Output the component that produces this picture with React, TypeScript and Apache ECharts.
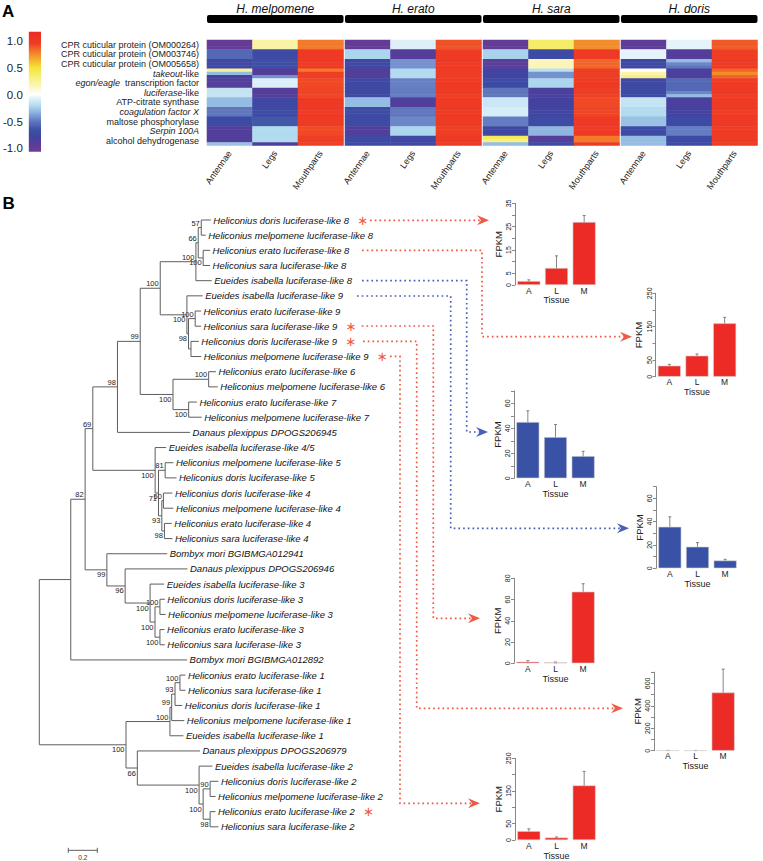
import React, { useEffect, useRef } from 'react';
import * as echarts from 'echarts';

const FONT = 'Liberation Sans, Arial, Helvetica, sans-serif';

// ---------------- Panel A data ----------------
const SPECIES = ['H. melpomene', 'H. erato', 'H. sara', 'H. doris'];
const TISSUES = ['Antennae', 'Legs', 'Mouthparts'];
const GENES = [
  'CPR cuticular protein (OM000264)',
  'CPR cuticular protein (OM003746)',
  'CPR cuticular protein (OM005658)',
  '_takeout_-like',
  '_egon/eagle_  transcription factor',
  '_luciferase_-like',
  'ATP-citrate synthase',
  '_coagulation factor X_',
  'maltose phosphorylase',
  '_Serpin 100A_',
  'alcohol dehydrogenase',
];
// one number = whole row, [a,b,c] = three stripes inside the row
const melpomene = [
  [-1.0, -0.55, -0.75, [0.25, -0.3, -0.8], -0.9, -0.15, -0.3, -0.5, -0.72, -0.88, [-0.88, -0.88, -0.28]],
  [0.22, -0.72, -0.68, [-0.9, -0.9, -0.42], -0.08, -0.9, -0.75, -0.72, -0.62, -0.2, [-0.2, -0.2, -0.85]],
  [0.8, 1.0, 1.0, [0.8, 0.95, 0.95], 0.92, 0.93, 1.0, 1.0, 0.97, 0.92, 0.95],
];
const erato = [
  [-1.0, -0.22, -0.75, -0.88, -0.75, -0.75, -0.3, -0.72, -0.72, -0.88, -0.72],
  [-0.08, -0.9, -0.42, -0.2, -0.47, -0.48, -0.88, -0.5, -0.45, -0.22, -0.75],
  [0.9, 0.97, 0.98, 0.96, 0.98, 0.97, 0.97, 0.98, 0.97, 0.95, 0.98],
];
const sara = [
  [-0.98, -0.23, -0.92, -0.8, -0.72, -0.5, -0.13, -0.1, -0.48, -0.75, [0.42, 0.3, -0.3]],
  [0.38, -0.72, 0.17, [-0.18, -0.42, -0.42], -0.22, -0.85, -0.82, -0.8, -0.72, -0.32, [-0.9, -0.9, -0.72]],
  [0.75, 0.98, 0.85, 0.95, 0.98, 0.95, 0.92, 0.93, 1.0, 1.0, [0.8, 0.8, 0.97]],
];
const doris = [
  [-0.95, -0.06, -0.75, [0.02, 0.2, 0.3], -0.75, -0.72, -0.15, -0.2, -0.28, -0.72, -0.3],
  [-0.06, -0.9, [-0.3, -0.45, -0.5], -0.85, -0.55, [-0.55, -0.45, -0.3], -0.85, -0.82, -0.72, -0.48, -0.72],
  [0.88, 0.95, 0.98, [0.85, 0.75, 0.85], 0.97, 0.98, 0.97, 0.97, 0.98, 0.97, 0.97],
];
const HEAT = [melpomene, erato, sara, doris];

const COLORBAR_TICKS = [-1, -0.5, 0, 0.5, 1];
const CB_MIN = -1.06;
const CB_MAX = 1.17;
const COLOR_STOPS: [number, string][] = [
  [-1.06, '#6d3b96'], [-0.95, '#603c98'], [-0.8, '#4043a0'], [-0.65, '#3b52a6'],
  [-0.5, '#5f75bd'], [-0.35, '#86acdc'], [-0.2, '#b2dcf0'], [-0.05, '#e8f5fb'],
  [0, '#ffffff'], [0.15, '#fbf6c0'], [0.35, '#f6ee72'], [0.5, '#f3e53a'],
  [0.65, '#f6b02c'], [0.8, '#f27a2a'], [0.95, '#ee3d24'], [1.17, '#ec2a23'],
];

// ---------------- Panel B data ----------------
const N8 = '(Heliconius doris luciferase-like 8:0.066,Heliconius melpomene luciferase-like 8:0.031)57:0.021';
const O8 = '(Heliconius erato luciferase-like 8:0.048,Heliconius sara luciferase-like 8:0.048)100:0.034';
const K8 = '((' + N8 + ',' + O8 + ')66:0.016,Eueides isabella luciferase-like 8:0.109)100:0.246';
const Q9 = '(Heliconius erato luciferase-like 9:0.041,Heliconius sara luciferase-like 9:0.041)100:0.046';
const R9 = '(Heliconius doris luciferase-like 9:0.054,Heliconius melpomene luciferase-like 9:0.071):0.017';
const L9 = '(Eueides isabella luciferase-like 9:0.109,(' + Q9 + ',' + R9 + ')98:0.011)100:0.184';
const S6 = '(Heliconius erato luciferase-like 6:0.050,Heliconius melpomene luciferase-like 6:0.063)100:0.246';
const T7 = '(Heliconius erato luciferase-like 7:0.057,Heliconius melpomene luciferase-like 7:0.090)100:0.108';
const H99 = '((' + K8 + ',' + L9 + ')100:0.138,(' + S6 + ',' + T7 + ')100:0.226)99:0.157';
const F98 = '(' + H99 + ',Danaus plexippus DPOGS206945:0.501)98:0.170';
const V5 = '(Heliconius melpomene luciferase-like 5:0.057,Heliconius doris luciferase-like 5:0.078)81:0.046';
const X4 = '(Heliconius doris luciferase-like 4:0.062,Heliconius melpomene luciferase-like 4:0.069)50:0.011';
const Y4 = '(Heliconius erato luciferase-like 4:0.051,Heliconius sara luciferase-like 4:0.055)98:0.018';
const G45 = '(Eueides isabella luciferase-like 4/5:0.076,(' + V5 + ',(' + X4 + ',' + Y4 + ')93:0.023)71:0.023)100:0.430';
const AC3 = '(Heliconius doris luciferase-like 3:0.034,Heliconius melpomene luciferase-like 3:0.039)100:0.034';
const AD3 = '(Heliconius erato luciferase-like 3:0.032,Heliconius sara luciferase-like 3:0.034)100:0.034';
const E99 = '(Bombyx mori BGIBMGA012941:0.416,(Danaus plexippus DPOGS206946:0.430,(Eueides isabella luciferase-like 3:0.097,(' + AC3 + ',' + AD3 + ')100:0.034)100:0.172)96:0.126)99:0.150';
const UPPER = '(((' + F98 + ',' + G45 + ')69:0.053,' + E99 + ')82:0.099,Bombyx mori BGIBMGA012892:0.802):0.217';
const AH1 = '(Heliconius erato luciferase-like 1:0.038,Heliconius sara luciferase-like 1:0.038)100:0.034';
const AE1 = '(((' + AH1 + ',Heliconius doris luciferase-like 1:0.050)93:0.023,Heliconius melpomene luciferase-like 1:0.087)99:0.012,Eueides isabella luciferase-like 1:0.093)100:0.303';
const AL2 = '(Heliconius doris luciferase-like 2:0.057,Heliconius melpomene luciferase-like 2:0.038)90:0.048';
const AM2 = '(Heliconius erato luciferase-like 2:0.037,Heliconius sara luciferase-like 2:0.057)98:0.048';
const AF2 = '(Danaus plexippus DPOGS206979:0.432,(Eueides isabella luciferase-like 2:0.092,(' + AL2 + ',' + AM2 + ')100:0.028)100:0.426)66:0.078';
const LOWER = '(' + AE1 + ',' + AF2 + ')100:0.598';
const TREE_NEWICK = '(' + UPPER + ',' + LOWER + ');';
const STARRED = [
  'Heliconius doris luciferase-like 8', 'Heliconius sara luciferase-like 9', 'Heliconius doris luciferase-like 9',
  'Heliconius melpomene luciferase-like 9', 'Heliconius erato luciferase-like 2',
];
const SCALE_BAR = 0.2;

const BAR_TISSUES = ['A', 'L', 'M'];
const BAR_GENES = [
  'Heliconius doris luciferase-like 8', 'Heliconius erato luciferase-like 8', 'Eueides isabella luciferase-like 8',
  'Eueides isabella luciferase-like 9', 'Heliconius sara luciferase-like 9', 'Heliconius doris luciferase-like 9',
  'Heliconius melpomene luciferase-like 9',
];
const FPKM_MEAN = [[1.7, 7.3, 27], [33, 63, 160], [45, 33, 17.8], [35.6, 18.5, 6.7], [1.5, 0.8, 67.4], [2, 2, 518], [27.4, 7.8, 167]];
const FPKM_ERR = [[0.5, 5.2, 2.8], [4, 5, 18], [9, 10, 3.8], [8.5, 3.5, 1], [1, 0.4, 7.5], [0.5, 0.5, 208], [7, 1.8, 43]];
const Y_MAX = [35, 250, 70, 70, 80, 700, 250];
const Y_STEP = [5, 50, 10, 10, 20, 100, 50];
const Y_LABELS = [[0, 5, 15, 25, 35], [0, 50, 150, 250], [0, 20, 40, 60], [0, 20, 40, 60], [0, 20, 40, 60, 80], [0, 200, 400, 600], [0, 50, 150, 250]];

// ---------------- layout (pixels) ----------------
const HM_LEFT = 207, HM_STEP = 138, HM_W = 136.5, HM_TOP = 40, HM_H = 105.6;
const TREE_LEFT = 39.3, TREE_TOP = 220, PX_PER_UNIT = 145, LEAF_STEP = 15.17;
const BAR_POS = [[515, 285, 81.6], [655.5, 376.7, 83.4], [514, 478.3, 87.5], [656, 568.3, 81.7], [514, 663.3, 85], [654, 750.7, 78.6], [515, 843.3, 85]];
const BAR_W = 83;
const RED = '#ec2a26', BLUE = '#3a52a5', ARROW_RED = '#ef5a45', ARROW_BLUE = '#4a5fb5';
const ARROWS: { c: string; p: number[][] }[] = [
  { c: ARROW_RED, p: [[370, 220.3], [489, 220.3]] },
  { c: ARROW_RED, p: [[362, 250.3], [482, 250.3], [482, 336.7], [632, 336.7]] },
  { c: ARROW_BLUE, p: [[362, 280.7], [466.7, 280.7], [466.7, 432], [488, 432]] },
  { c: ARROW_BLUE, p: [[357, 296], [450.7, 296], [450.7, 528.3], [629, 528.3]] },
  { c: ARROW_RED, p: [[361.7, 326], [433.3, 326], [433.3, 618.3], [480, 618.3]] },
  { c: ARROW_RED, p: [[363, 341.3], [416.7, 341.3], [416.7, 708.3], [623, 708.3]] },
  { c: ARROW_RED, p: [[390, 356.3], [400, 356.3], [400, 803.3], [480, 803.3]] },
];

// ---------------- helpers ----------------
function hexToRgb(h: string) {
  const n = parseInt(h.slice(1), 16);
  return [(n >> 16) & 255, (n >> 8) & 255, n & 255];
}
function colorAt(v: number) {
  for (let i = 0; i < COLOR_STOPS.length - 1; i++) {
    const [v0, c0] = COLOR_STOPS[i];
    const [v1, c1] = COLOR_STOPS[i + 1];
    if (v <= v1 || i === COLOR_STOPS.length - 2) {
      const t = Math.max(0, Math.min(1, (v - v0) / (v1 - v0)));
      const a = hexToRgb(c0), b = hexToRgb(c1);
      return `rgb(${a.map((x, k) => Math.round(x + (b[k] - x) * t)).join(',')})`;
    }
  }
  return COLOR_STOPS[COLOR_STOPS.length - 1][1];
}
function expandCol(col: any[]) {
  const out: number[] = [];
  col.forEach((r) => {
    if (Array.isArray(r)) out.push(...r);
    else out.push(r, r, r);
  });
  return out;
}
function toRich(s: string) {
  return s.split('_').map((seg, k) => (seg ? `{${k % 2 ? 'i' : 'n'}|${seg}}` : '')).join('');
}

type TNode = { name: string; label: string; len: number; children: TNode[]; depth?: number; pdepth?: number; y?: number; y1?: number; y2?: number; pos?: string };
function parseNewick(s: string): TNode {
  let i = 0;
  function node(): TNode {
    const n: TNode = { name: '', label: '', len: 0, children: [] };
    if (s[i] === '(') {
      i++;
      n.children.push(node());
      while (s[i] === ',') { i++; n.children.push(node()); }
      i++;
    }
    let t = '';
    while (i < s.length && !':,);'.includes(s[i])) t += s[i++];
    if (n.children.length) n.label = t.trim(); else n.name = t.trim();
    if (s[i] === ':') {
      i++;
      let num = '';
      while (i < s.length && !',);'.includes(s[i])) num += s[i++];
      n.len = parseFloat(num);
    }
    return n;
  }
  return node();
}

function buildTree() {
  const root = parseNewick(TREE_NEWICK);
  const nodes: TNode[] = [];
  let leaf = 0;
  function lay(n: TNode, depth: number, pdepth: number, pos: string) {
    n.depth = depth; n.pdepth = pdepth; n.pos = pos;
    if (!n.children.length) n.y = leaf++;
    else {
      n.children.forEach((c, k) => lay(c, depth + c.len, depth, k === 0 ? 'upper' : 'lower'));
      n.y1 = n.children[0].y; n.y2 = n.children[n.children.length - 1].y;
      n.y = (n.y1! + n.y2!) / 2;
    }
    nodes.push(n);
  }
  lay(root, 0, 0, 'root');
  return { nodes, leafCount: leaf };
}

function buildOption() {
  const grid: any[] = [], xAxis: any[] = [], yAxis: any[] = [], series: any[] = [], graphic: any[] = [];

  // ---- colorbar ----
  grid.push({ left: 26, top: 31.7, width: 15, height: 120 });
  xAxis.push({ gridIndex: 0, type: 'value', min: 0, max: 1, show: false });
  yAxis.push({
    gridIndex: 0, type: 'value', min: CB_MIN, max: CB_MAX,
    axisLine: { show: false }, axisTick: { show: false }, splitLine: { show: false },
    axisLabel: { customValues: COLORBAR_TICKS, formatter: (v: number) => v.toFixed(1), fontSize: 11.5, color: '#222', margin: 6, fontFamily: FONT },
  });
  const stops = COLOR_STOPS.map(([v, c]) => ({ offset: (v - CB_MIN) / (CB_MAX - CB_MIN), color: c }));
  series.push({
    type: 'custom', xAxisIndex: 0, yAxisIndex: 0, data: [[0, CB_MIN]], silent: true,
    renderItem: (_p: any, api: any) => {
      const tl = api.coord([0, CB_MAX]), br = api.coord([1, CB_MIN]);
      return { type: 'rect', shape: { x: tl[0], y: tl[1], width: br[0] - tl[0], height: br[1] - tl[1] }, style: { fill: new echarts.graphic.LinearGradient(0, 1, 0, 0, stops) } };
    },
  });

  // ---- heatmaps ----
  const nSub = GENES.length * 3;
  const subCats = Array.from({ length: nSub }, (_, k) => String(k));
  SPECIES.forEach((sp, s) => {
    const gi = 1 + s;
    const left = HM_LEFT + s * HM_STEP;
    grid.push({ left, top: HM_TOP, width: HM_W, height: HM_H });
    xAxis.push({
      gridIndex: gi, type: 'category', data: TISSUES, axisLine: { show: false }, axisTick: { show: false },
      axisLabel: { rotate: 55, fontSize: 9, color: '#222', margin: 6, fontFamily: FONT, interval: 0 },
    });
    yAxis.push({
      gridIndex: gi, type: 'category', data: subCats, inverse: true, axisLine: { show: false }, axisTick: { show: false },
      axisLabel: s === 0 ? {
        show: true, interval: (idx: number) => idx % 3 === 1, margin: 8,
        formatter: (_v: string, idx: number) => toRich(GENES[Math.floor(idx / 3)]),
        rich: {
          n: { fontSize: 9, color: '#222', fontFamily: FONT },
          i: { fontSize: 9, color: '#222', fontFamily: FONT, fontStyle: 'italic' },
        },
      } : { show: false },
    });
    const data: any[] = [];
    HEAT[s].forEach((col, t) => expandCol(col).forEach((v, r) => data.push([t, r, v])));
    series.push({ type: 'heatmap', xAxisIndex: gi, yAxisIndex: gi, data, silent: true, itemStyle: { borderWidth: 0 } });
    graphic.push({ type: 'rect', shape: { x: left, y: 15, width: HM_W, height: 8, r: 2 }, style: { fill: '#000' } });
    graphic.push({ type: 'text', x: left + HM_W / 2, y: 8.5, style: { text: sp, fontSize: 12, fontStyle: 'italic', fontFamily: FONT, fill: '#111', align: 'center', verticalAlign: 'middle' } });
  });

  // ---- tree ----
  const { nodes, leafCount } = buildTree();
  const tgi = 5;
  const treeMaxX = 1.5;
  grid.push({ left: TREE_LEFT, top: TREE_TOP, width: treeMaxX * PX_PER_UNIT, height: (leafCount - 1) * LEAF_STEP });
  xAxis.push({ gridIndex: tgi, type: 'value', min: 0, max: treeMaxX, show: false });
  yAxis.push({ gridIndex: tgi, type: 'value', min: 0, max: leafCount - 1, inverse: true, show: false });
  const LINE = '#5e5e5e';
  series.push({
    type: 'custom', xAxisIndex: tgi, yAxisIndex: tgi, silent: true, clip: false,
    data: nodes.map((n) => [n.depth, n.y]),
    renderItem: (params: any, api: any) => {
      const n = nodes[params.dataIndex];
      const p = api.coord([n.depth, n.y]);
      const ch: any[] = [];
      if (n.pos !== 'root') {
        const q = api.coord([n.pdepth, n.y]);
        ch.push({ type: 'line', shape: { x1: q[0], y1: p[1], x2: p[0], y2: p[1] }, style: { stroke: LINE, lineWidth: 1 } });
      }
      if (n.children.length) {
        const a = api.coord([n.depth, n.y1]), b = api.coord([n.depth, n.y2]);
        ch.push({ type: 'line', shape: { x1: p[0], y1: a[1], x2: p[0], y2: b[1] }, style: { stroke: LINE, lineWidth: 1 } });
        if (n.label) {
          const up = n.pos === 'upper';
          ch.push({ type: 'text', style: { text: n.label, x: p[0] - 1.5, y: up ? p[1] - 0.5 : p[1] + 1, align: 'right', verticalAlign: up ? 'bottom' : 'top', fontSize: 7.5, fill: '#222', fontFamily: FONT } });
        }
      } else {
        const star = STARRED.includes(n.name);
        ch.push({
          type: 'text',
          style: {
            text: `{n|${n.name}}` + (star ? '{s|  ∗}' : ''), x: p[0] + 2.5, y: p[1], align: 'left', verticalAlign: 'middle',
            rich: {
              n: { fontSize: 9.5, fontStyle: 'italic', fill: '#111', fontFamily: FONT },
              s: { fontSize: 13, fill: ARROW_RED, fontFamily: 'DejaVu Sans' },
            },
          },
        });
      }
      return { type: 'group', children: ch };
    },
  });
  const sbY = leafCount - 1 + 1.55;
  series.push({
    type: 'custom', xAxisIndex: tgi, yAxisIndex: tgi, silent: true, clip: false,
    data: [[SCALE_BAR, sbY]],
    renderItem: (_p: any, api: any) => {
      const a = api.coord([SCALE_BAR, sbY]), b = api.coord([2 * SCALE_BAR, sbY]);
      return {
        type: 'group', children: [
          { type: 'line', shape: { x1: a[0], y1: a[1], x2: b[0], y2: b[1] }, style: { stroke: LINE, lineWidth: 1 } },
          { type: 'line', shape: { x1: a[0], y1: a[1] - 2.5, x2: a[0], y2: a[1] + 2.5 }, style: { stroke: LINE, lineWidth: 1 } },
          { type: 'line', shape: { x1: b[0], y1: b[1] - 2.5, x2: b[0], y2: b[1] + 2.5 }, style: { stroke: LINE, lineWidth: 1 } },
          { type: 'text', style: { text: String(SCALE_BAR), x: (a[0] + b[0]) / 2, y: a[1] + 4, align: 'center', verticalAlign: 'top', fontSize: 6.5, fill: '#333', fontFamily: FONT } },
        ],
      };
    },
  });

  // ---- bar charts ----
  BAR_GENES.forEach((g, k) => {
    const gi = 6 + k;
    const [left, bottom, h] = BAR_POS[k];
    const color = g.startsWith('Eueides') ? BLUE : RED;
    grid.push({ left, top: bottom - h, width: BAR_W, height: h });
    xAxis.push({
      gridIndex: gi, type: 'category', data: BAR_TISSUES, axisLine: { show: false }, axisTick: { show: false },
      axisLabel: { fontSize: 8.5, color: '#222', margin: 1, fontFamily: FONT, lineHeight: 9 },
      name: 'Tissue', nameLocation: 'middle', nameGap: 6, nameTextStyle: { fontSize: 9, color: '#222', fontFamily: FONT },
    });
    yAxis.push({
      gridIndex: gi, type: 'value', min: 0, max: Y_MAX[k], interval: Y_STEP[k],
      axisLine: { show: true, lineStyle: { color: '#888', width: 1 } },
      axisTick: { show: true, length: 3, lineStyle: { color: '#888' } },
      splitLine: { show: false },
      axisLabel: {
        rotate: 90, fontSize: 7, color: '#222', margin: 3, fontFamily: FONT, hideOverlap: false, showMinLabel: true, showMaxLabel: true,
        formatter: (v: number) => (Y_LABELS[k].includes(v) ? String(v) : ''),
      },
      name: 'FPKM', nameLocation: 'middle', nameGap: 12, nameRotate: 90, nameTextStyle: { fontSize: 9.5, color: '#222', fontFamily: FONT },
    });
    series.push({
      type: 'bar', xAxisIndex: gi, yAxisIndex: gi, data: FPKM_MEAN[k], barWidth: 23, silent: true,
      itemStyle: { color, borderColor: '#d4d4d4', borderWidth: 0.6 },
    });
    series.push({
      type: 'custom', xAxisIndex: gi, yAxisIndex: gi, silent: true, clip: false,
      data: FPKM_MEAN[k].map((m, i) => [i, m - FPKM_ERR[k][i], m + FPKM_ERR[k][i]]),
      renderItem: (_p: any, api: any) => {
        const lo = api.coord([api.value(0), api.value(1)]);
        const hi = api.coord([api.value(0), api.value(2)]);
        const st = { stroke: '#666', lineWidth: 0.8 };
        return {
          type: 'group', children: [
            { type: 'line', shape: { x1: lo[0], y1: lo[1], x2: hi[0], y2: hi[1] }, style: st },
            { type: 'line', shape: { x1: hi[0] - 1.5, y1: hi[1], x2: hi[0] + 1.5, y2: hi[1] }, style: st },
            { type: 'line', shape: { x1: lo[0] - 1.5, y1: lo[1], x2: lo[0] + 1.5, y2: lo[1] }, style: st },
          ],
        };
      },
    });
  });

  // ---- dotted arrows ----
  ARROWS.forEach(({ c, p }) => {
    const tip = p[p.length - 1];
    const pts = p.map((q) => [q[0], q[1]]);
    pts[pts.length - 1] = [tip[0] - 8, tip[1]];
    graphic.push({ type: 'polyline', shape: { points: pts }, style: { stroke: c, lineWidth: 1.7, lineDash: [1.7, 3], fill: null } });
    graphic.push({
      type: 'polygon',
      shape: { points: [[tip[0], tip[1]], [tip[0] - 12, tip[1] - 5], [tip[0] - 8, tip[1]], [tip[0] - 12, tip[1] + 5]] },
      style: { fill: c },
    });
  });

  // ---- panel letters ----
  graphic.push({ type: 'text', x: 2, y: 3, style: { text: 'A', fontSize: 17, fontWeight: 'bold', fontFamily: FONT, fill: '#000' } });
  graphic.push({ type: 'text', x: 2.5, y: 195, style: { text: 'B', fontSize: 17, fontWeight: 'bold', fontFamily: FONT, fill: '#000' } });

  const sampled = Array.from({ length: 90 }, (_, k) => colorAt(CB_MIN + ((CB_MAX - CB_MIN) * k) / 89));

  return {
    animation: false,
    backgroundColor: '#fff',
    textStyle: { fontFamily: FONT },
    grid, xAxis, yAxis, series, graphic,
    visualMap: { type: 'continuous', show: false, min: CB_MIN, max: CB_MAX, seriesIndex: [1, 2, 3, 4], inRange: { color: sampled } },
  };
}

export default function App() {
  const ref = useRef<HTMLDivElement>(null);
  useEffect(() => {
    const chart = echarts.init(ref.current!, undefined, { renderer: 'svg' });
    chart.setOption(buildOption() as any);
    return () => chart.dispose();
  }, []);
  return <div ref={ref} style={{ position: 'fixed', left: 0, top: 0, width: 763, height: 861, background: '#fff' }} />;
}
